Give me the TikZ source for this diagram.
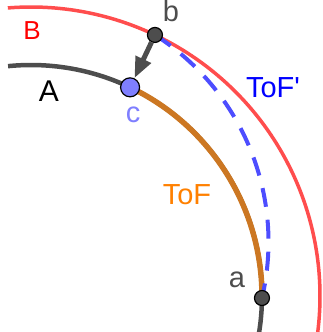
\documentclass[tikz,border=0pt]{standalone}
\usepackage{fontspec}
\setmainfont{Liberation Sans}
\definecolor{GgbRed}{RGB}{255, 77, 77}
\definecolor{GgbBlue}{RGB}{77, 77, 255}
\definecolor{GgbGray}{RGB}{77, 77, 77}
\definecolor{GgbOrange}{RGB}{204, 119, 34}
\definecolor{GgbLight}{RGB}{127, 127, 255}
\usetikzlibrary{arrows.meta}

\begin{document}
\begin{tikzpicture}[x=1pt, y=1pt, font=\fontsize{29}{32}\selectfont,
	ptdot/.style={circle, draw=black, line width=1.2pt, fill=GgbGray, inner sep=0pt, minimum size=15pt},
	bigdot/.style={ptdot, fill=GgbLight, minimum size=19pt}]
	\useasboundingbox (0,0) rectangle (322,332);
	\begin{scope}[shift={(31,36)}]
		\draw[GgbRed, line width=3.5pt] (94.6:289) arc[start angle=94.6, end angle=-7.5, radius=289];
		\draw[GgbGray, line width=4.5pt] (95.7:231) arc[start angle=95.7, end angle=-9.5, radius=231];
		\coordinate (pb) at (64.6:289);
		\coordinate (pc) at (64.6:231);
		\coordinate (pa) at (-0.5:231);
	\end{scope}
	\draw[GgbOrange, line width=5.5pt] (pc) to[bend left=32.5, looseness=0.92] (pa);
	\draw[GgbBlue, line width=4pt, dash pattern=on 19pt off 13pt] (pb) to[bend left=35.4, looseness=0.94] (pa);
	\node[ptdot] (b) at (pb) {};
	\node[bigdot] (c) at (pc) {};
	\node[ptdot] (a) at (pa) {};
	\draw[GgbGray, line width=5pt, -{Triangle[length=21pt, width=16pt]}] (b) -- (c);
	\node[text=red, font=\fontsize{26}{30}\selectfont] (labB) at (32,301) {B};
	\node[font=\fontsize{30}{34}\selectfont] (labA) at (49,241) {A};
	\node[text=GgbLight] (labc) at (133,217) {c};
	\node[text=GgbGray] (labb) at (171,321) {b};
	\node[text=GgbGray] (laba) at (237,52) {a};
	\node[text=blue] (labTofp) at (273,244) {ToF\textquotesingle};
	\node[text=orange] (labTof) at (187,137) {ToF};
\end{tikzpicture}
\end{document}
